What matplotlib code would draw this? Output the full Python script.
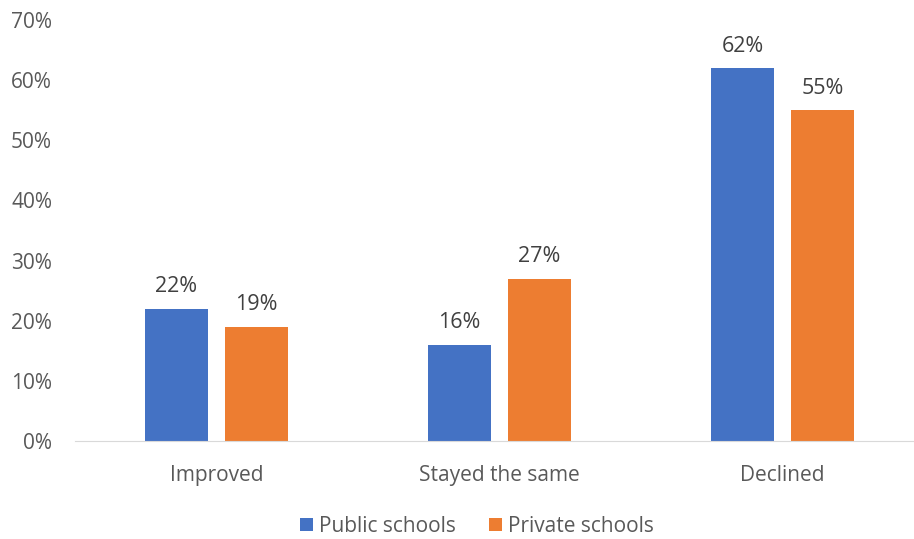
import matplotlib
matplotlib.use('Agg')
import matplotlib.pyplot as plt
import numpy as np

categories = ['Improved', 'Stayed the same', 'Declined']
public = [22, 16, 62]
private = [19, 27, 55]
series_names = ['Public schools', 'Private schools']

blue = '#4472C4'
orange = '#ED7D31'
grey = '#595959'

plt.rcParams['font.family'] = ['Open Sans', 'DejaVu Sans']

fig = plt.figure(figsize=(9.14, 5.39), dpi=100)
ax = fig.add_axes([75/914, 1 - 441/539, (914-75)/914, (441-20)/539])

x = np.arange(len(categories))
w = 0.223
gap = 0.06
off = (w + gap) / 2

b1 = ax.bar(x - off, public, w, color=blue, label=series_names[0])
b2 = ax.bar(x + off, private, w, color=orange, label=series_names[1])

for bars, vals in ((b1, public), (b2, private)):
    for r, v in zip(bars, vals):
        ax.text(r.get_x() + r.get_width()/2, v + 1.9, '%d%%' % v,
                ha='center', va='bottom', fontsize=15.5, color='#404040')

ax.set_ylim(0, 70)
ax.set_xlim(-0.5, 2.5 + (914 - 75 - 3*283) / 283.0)
ax.set_yticks(range(0, 71, 10))
ax.set_yticklabels(['%d%%' % t for t in range(0, 71, 10)])
ax.set_xticks(x)
ax.set_xticklabels(categories)
ax.tick_params(axis='both', length=0, labelsize=15, colors=grey)
ax.tick_params(axis='y', pad=16.5)
ax.tick_params(axis='x', pad=17)
for s in ['top', 'right', 'left']:
    ax.spines[s].set_visible(False)
ax.spines['bottom'].set_color('#D9D9D9')

leg = fig.legend(handles=[b1, b2], loc='center', bbox_to_anchor=(477/914, 1 - 526/539),
                 ncol=2, frameon=False, fontsize=15, handlelength=0.6,
                 handleheight=0.6, handletextpad=0.3, columnspacing=1.6)
for t in leg.get_texts():
    t.set_color(grey)

fig.savefig('out.png', dpi=100)
